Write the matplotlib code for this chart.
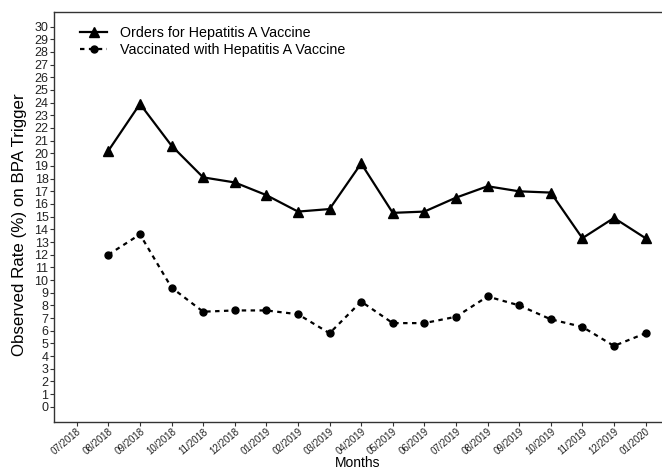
import matplotlib
matplotlib.use("Agg")
import matplotlib.pyplot as plt
import matplotlib.transforms as mtransforms

plt.rcParams['font.family'] = ['Liberation Sans', 'DejaVu Sans']

months = ["07/2018", "08/2018", "09/2018", "10/2018", "11/2018", "12/2018",
          "01/2019", "02/2019", "03/2019", "04/2019", "05/2019", "06/2019",
          "07/2019", "08/2019", "09/2019", "10/2019", "11/2019", "12/2019", "01/2020"]
orders = [20.2, 23.9, 20.6, 18.1, 17.7, 16.7, 15.4, 15.6, 19.2, 15.3, 15.4,
          16.5, 17.4, 17.0, 16.9, 13.3, 14.9, 13.3]
vaccinated = [12.0, 13.6, 9.4, 7.5, 7.6, 7.6, 7.3, 5.8, 8.3, 6.6, 6.6,
              7.1, 8.7, 8.0, 6.9, 6.3, 4.8, 5.8]
yticks = list(range(0, 31))

fig = plt.figure(figsize=(6.62, 4.71), dpi=100)
ax = fig.add_axes([54/662, 1-421.7/471, 1-54/662, (421.7-12)/471])

x = list(range(1, len(months)))
ax.plot(x, orders, color='black', linestyle='-', linewidth=1.6, marker='^',
        markersize=6.5, label='Orders for Hepatitis A Vaccine')
ax.plot(x, vaccinated, color='black', linestyle=(0, (2, 2)), linewidth=1.6, marker='o',
        markersize=5, label='Vaccinated with Hepatitis A Vaccine')

ax.set_xlim(-0.72, 18.52)
ax.set_ylim(-1.18, 31.15)
ax.set_xticks(range(len(months)))
ax.set_xticklabels(months, rotation=40, ha='right', va='top', rotation_mode='anchor',
                   fontsize=7, color='#222222')
offset = mtransforms.ScaledTranslation(4/100, 2/100, fig.dpi_scale_trans)
for lab in ax.get_xticklabels():
    lab.set_transform(lab.get_transform() + offset)
ax.set_yticks(yticks)
ax.set_yticklabels([str(v) for v in yticks], fontsize=9, color='#222222')
ax.tick_params(axis='both', length=3, width=0.8, color='#333333', pad=1)
ax.tick_params(axis='x', pad=0.5)

for s in ['left', 'bottom', 'top']:
    ax.spines[s].set_linewidth(1.0)
    ax.spines[s].set_color('#333333')
ax.spines['right'].set_visible(False)

ax.set_xlabel('Months', fontsize=10)
ax.xaxis.set_label_coords(0.5, (421.7 - 456) / 409.7)
ax.set_ylabel('Observed Rate (%) on BPA Trigger', fontsize=12.2)
ax.yaxis.set_label_coords(-(54 - 20) / 608, (421.7 - 225) / 409.7)
ax.yaxis.label.set_va('center')

leg = ax.legend(loc='upper left', bbox_to_anchor=(26/608, 1 - 14/409.7), frameon=False,
                fontsize=10.3, handlelength=1.9, handletextpad=0.9, labelspacing=0.2,
                borderaxespad=0.0, borderpad=0.0)

fig.savefig('out.png', dpi=100)
